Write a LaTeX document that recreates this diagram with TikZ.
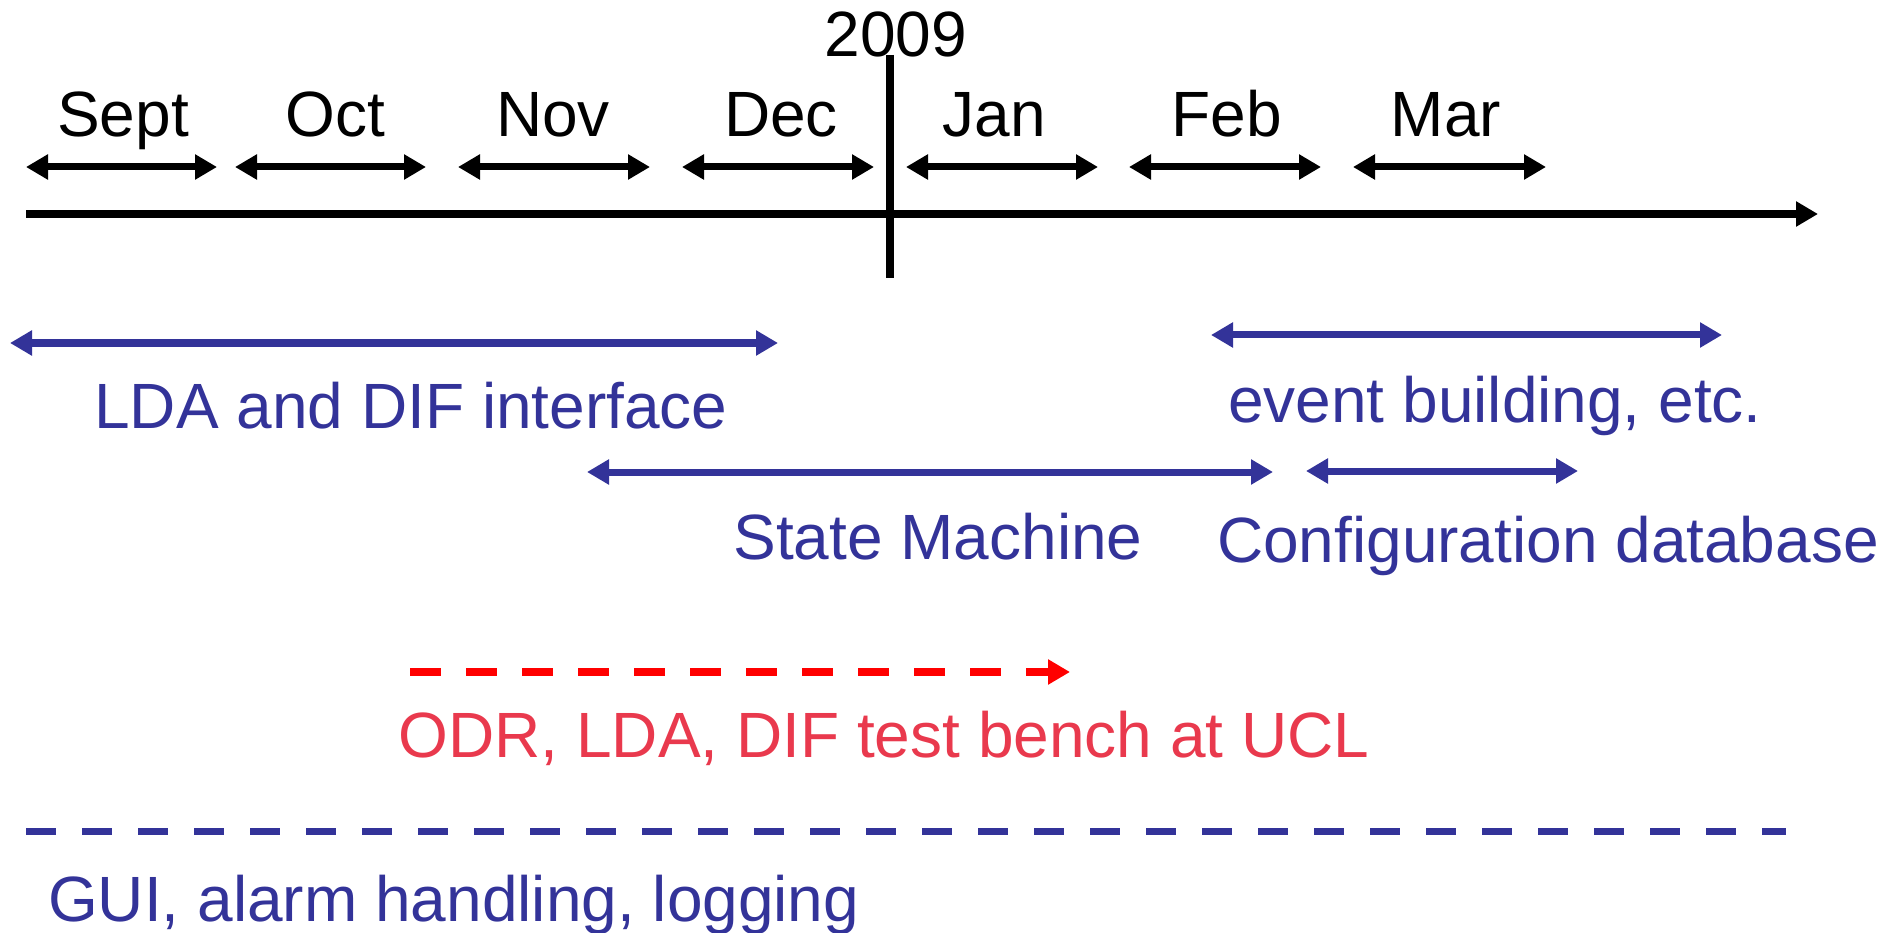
\documentclass[tikz,border=0pt]{standalone}
\usepackage{fontspec}
\setmainfont{Liberation Sans}
\usetikzlibrary{arrows.meta}
\definecolor{planblue}{RGB}{51,51,153}
\definecolor{benchred}{RGB}{233,57,77}
\definecolor{dashred}{RGB}{255,0,0}
\begin{document}
\begin{tikzpicture}[x=1pt,y=-1pt]
	\tikzset{txt/.style = {anchor=base, inner sep=0pt, font=\fontsize{64}{72}\selectfont}}
	\tikzset{tip/.style = {>={Triangle[length=22pt,width=24pt]}}}
	\tikzset{span/.style = {<->, tip, line width=7pt}}
	\useasboundingbox (0,0) rectangle (1885,933);
	% Draw timeline
	\coordinate (start) at (26,214);
	\coordinate (end) at (1818,214);
	\draw[->, tip, line width=7.5pt] (start) -- (end);
	\node[txt] (year) at (896,57) {2009};
	\coordinate (ytop) at (890,55);
	\coordinate (ybot) at (890,278);
	\draw[line width=8pt] (ytop) -- (ybot);
	% Months
	\foreach \m/\c/\l/\r in {Sept/123/26/217, Oct/335/235/426, Nov/553/458/650, Dec/781/682/874, Jan/994/906/1098, Feb/1227/1129/1321, Mar/1446/1353/1546} {
		\node[txt] (\m) at (\c,137) {\m};
		\coordinate (\m-l) at (\l,167);
		\coordinate (\m-r) at (\r,167);
		\draw[span] (\m-l) -- (\m-r);
	}
	% Tasks
	\coordinate (lda-l) at (10,343);
	\coordinate (lda-r) at (778,343);
	\draw[span, planblue] (lda-l) -- (lda-r);
	\node[txt, text=planblue] (lda) at (411,428) {LDA and DIF interface};
	\coordinate (evb-l) at (1211,335);
	\coordinate (evb-r) at (1722,335);
	\draw[span, planblue] (evb-l) -- (evb-r);
	\node[txt, text=planblue] (evb) at (1495,422) {event building, etc.};
	\coordinate (fsm-l) at (587,472);
	\coordinate (fsm-r) at (1273,472);
	\draw[span, planblue] (fsm-l) -- (fsm-r);
	\node[txt, text=planblue] (fsm) at (938,559) {State Machine};
	\coordinate (cfg-l) at (1306,471);
	\coordinate (cfg-r) at (1578,471);
	\draw[span, planblue] (cfg-l) -- (cfg-r);
	\node[txt, text=planblue] (cfg) at (1548,562) {Configuration database};
	\coordinate (ucl-l) at (410,672);
	\coordinate (ucl-r) at (1070,672);
	\draw[->, tip, dashred, line width=8pt, dash pattern=on 31pt off 25pt] (ucl-l) -- (ucl-r);
	\node[txt, text=benchred] (ucl) at (884,757) {ODR, LDA, DIF test bench at UCL};
	\coordinate (gui-l) at (26,831);
	\coordinate (gui-r) at (1786,831);
	\draw[planblue, line width=7pt, dash pattern=on 30pt off 26pt] (gui-l) -- (gui-r);
	\node[txt, text=planblue, anchor=base west] (gui) at (48,921) {GUI, alarm handling, logging};
\end{tikzpicture}
\end{document}
